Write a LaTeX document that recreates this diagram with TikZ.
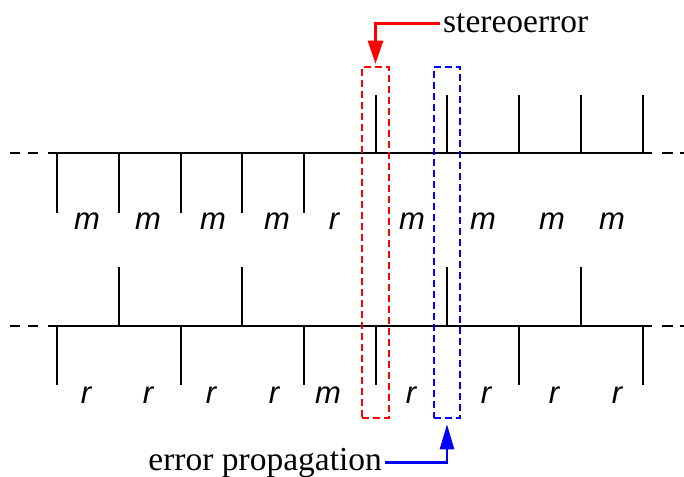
\documentclass[tikz,border=0pt]{standalone}
\usepackage{fontspec}
\setmainfont{Liberation Serif}
\setsansfont{Liberation Sans}
\usetikzlibrary{arrows.meta}
\definecolor{SERed}{HTML}{FF0000}
\definecolor{EPBlue}{HTML}{0000FF}

\begin{document}
\begin{tikzpicture}[x=1pt,y=-1pt,line width=2.3pt,
  stub/.style={black},
  lab/.style={font=\sffamily\itshape\fontsize{31}{36}\selectfont,anchor=base,inner sep=0pt},
  txt/.style={font=\fontsize{33.5}{40}\selectfont,inner sep=2pt},
  errbox/.style={line width=2.5pt,dash pattern=on 7pt off 4pt,minimum width=#1,minimum height=351pt,inner sep=0pt}]
\useasboundingbox (0,0) rectangle (684,476);
% top strand
\draw[dash pattern=on 10pt off 8pt] (10,153) -- (38,153);
\draw (48,153) -- (652,153);
\draw[dash pattern=on 11pt off 7pt] (662,153) -- (684,153);
\foreach \x in {57,119,181,242,304} \draw[stub] (\x,153) -- (\x,213);
\foreach \x in {376,447,519,581,643} \draw[stub] (\x,153) -- (\x,95);
\foreach \x/\t [count=\i] in {87/m,148/m,213/m,277/m,334/r,412/m,483/m,552/m,612/m}
  \node[lab] (top\i) at (\x,229) {\t};
% bottom strand
\draw[dash pattern=on 10pt off 8pt] (10,326) -- (38,326);
\draw (48,326) -- (652,326);
\draw[dash pattern=on 11pt off 7pt] (662,326) -- (684,326);
\foreach \x in {119,242,447,581} \draw[stub] (\x,326) -- (\x,267);
\foreach \x in {57,181,304,376,519,643} \draw[stub] (\x,326) -- (\x,385);
\foreach \x/\t [count=\i] in {86/r,148/r,211/r,274/r,328/m,411/r,486/r,554/r,617/r}
  \node[lab] (bot\i) at (\x,403) {\t};
% error windows
\node[errbox=27pt,draw=SERed] (redbox) at (375.5,242.5) {};
\node[errbox=26pt,draw=EPBlue] (bluebox) at (447,242.5) {};
\node[txt,anchor=base west] (stereo) at (440,33) {stereoerror};
\node[txt,anchor=base east] (prop) at (385,470) {error propagation};
\draw[-{Triangle[length=23pt,width=15pt]},SERed,line width=2.6pt,shorten >=2pt] (stereo.west) -| (redbox.north);
\draw[-{Triangle[length=25pt,width=14pt]},EPBlue,line width=2.6pt,shorten >=5pt] (prop.east) -| (bluebox.south);
\end{tikzpicture}
\end{document}
